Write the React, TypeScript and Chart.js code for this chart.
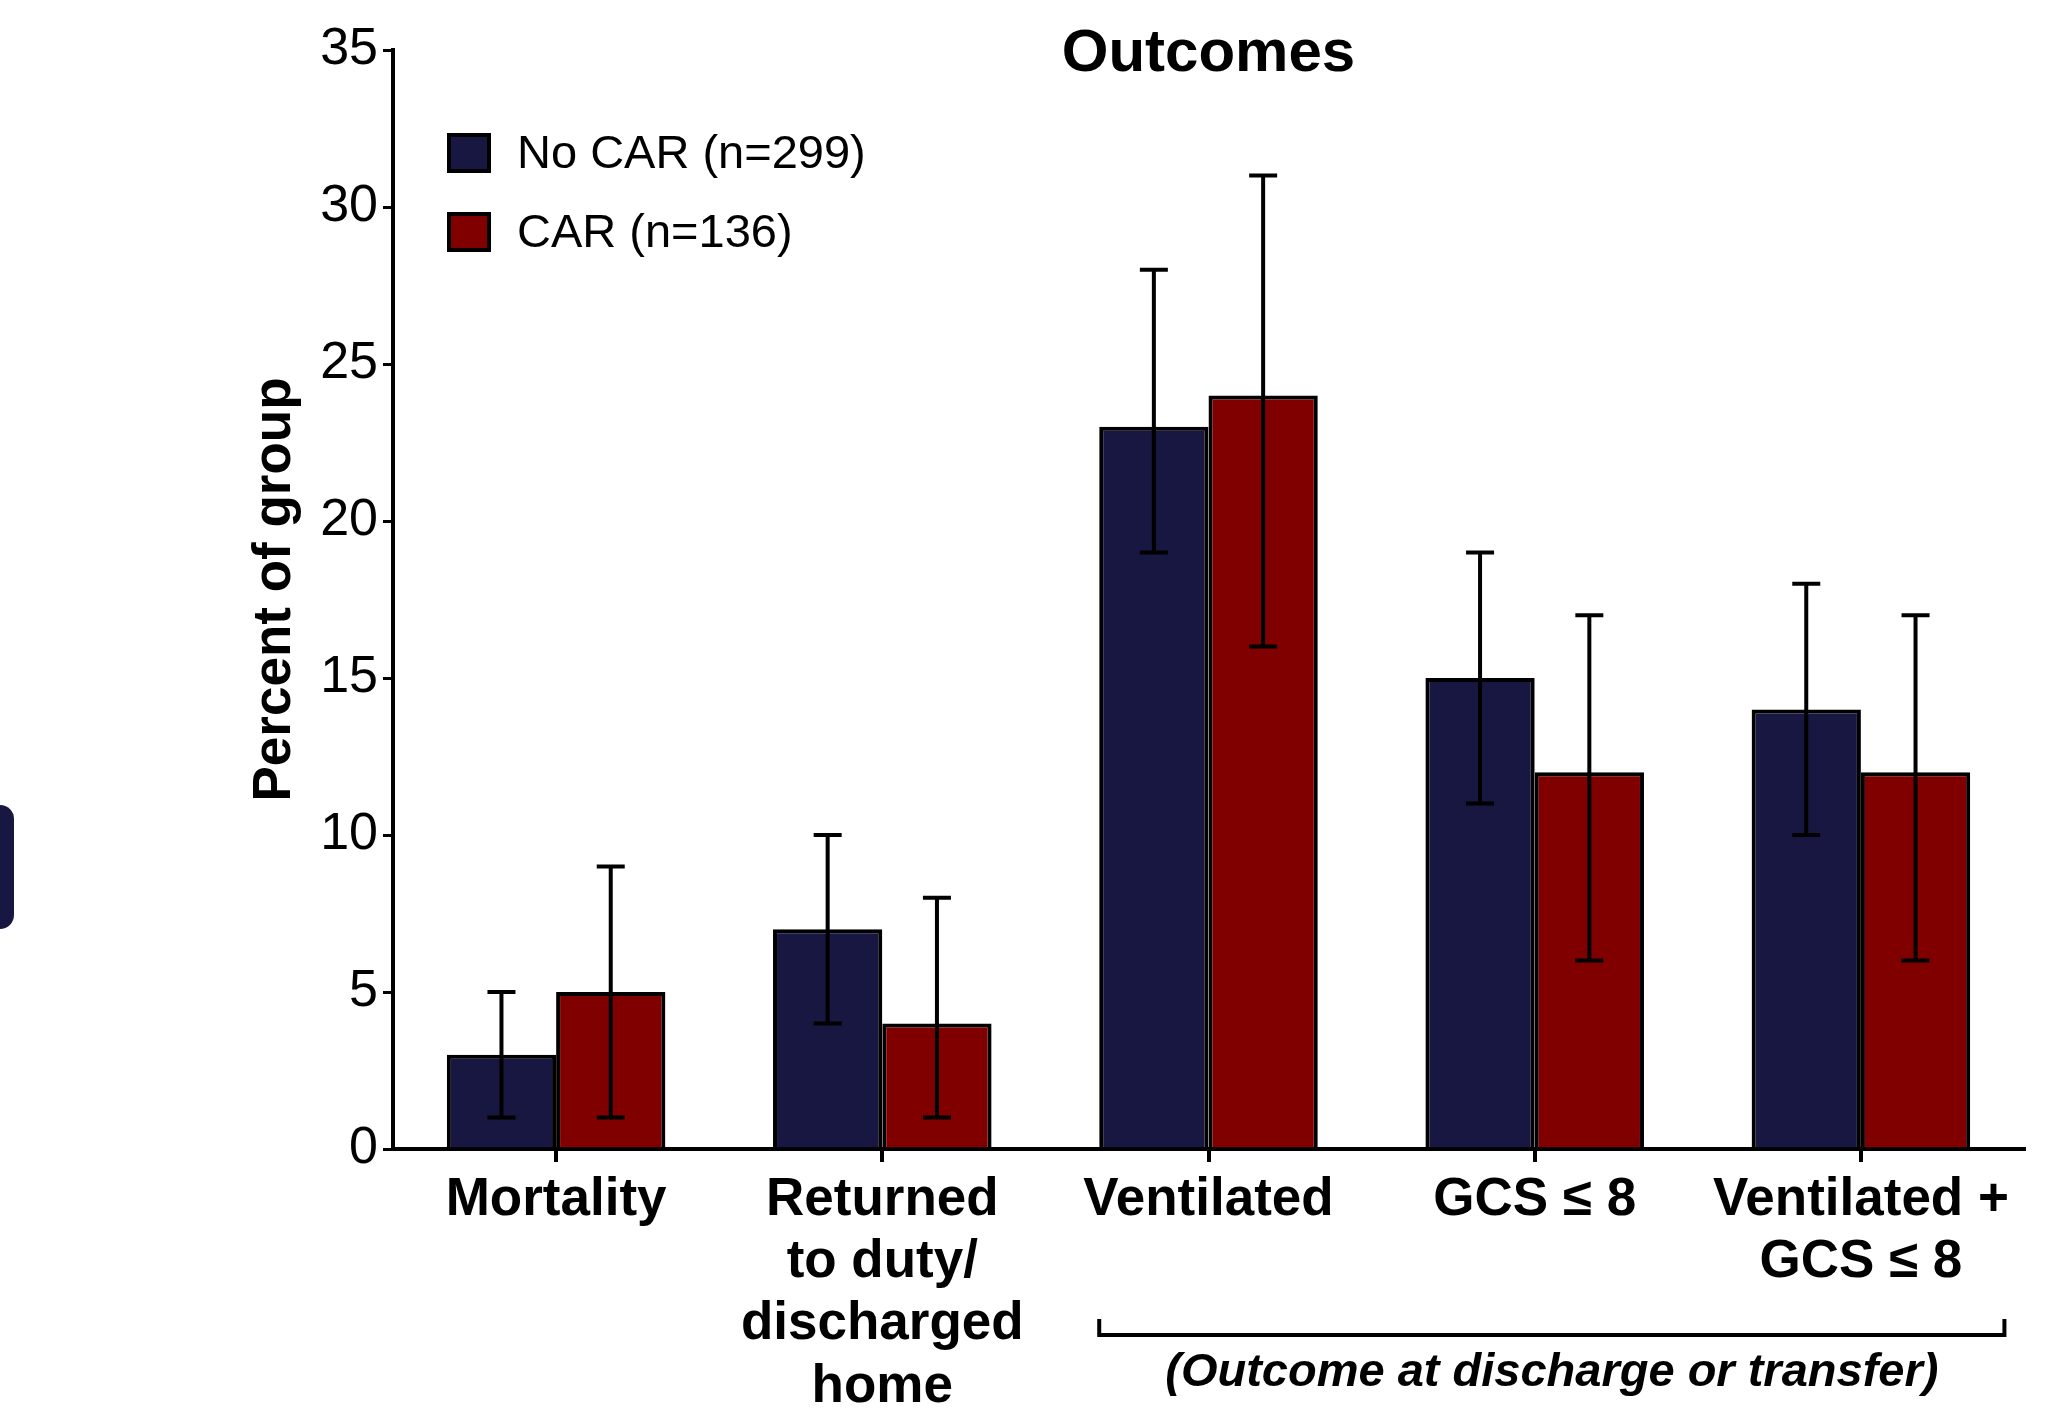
import React, { useEffect, useRef } from "react";
import { Chart, registerables } from "chart.js";

Chart.register(...registerables);

const categories: (string | string[])[] = [
  "Mortality",
  ["Returned", "to duty/", "discharged", "home"],
  "Ventilated",
  "GCS \u2264 8",
  ["Ventilated +", "GCS \u2264 8"],
];
const seriesNames = ["No CAR (n=299)", "CAR (n=136)"];
const noCarValues = [3, 7, 23, 15, 14];
const noCarLow = [1, 4, 19, 11, 10];
const noCarHigh = [5, 10, 28, 19, 18];
const carValues = [5, 4, 24, 12, 12];
const carLow = [1, 1, 16, 6, 6];
const carHigh = [9, 8, 31, 17, 17];
const yMin = 0;
const yMax = 35;
const yStep = 5;
const chartTitle = "Outcomes";
const yTitle = "Percent of group";
const bracketText = "(Outcome at discharge or transfer)";

const NAVY = "#171741";
const RED = "#800000";
const FONT = "'Liberation Sans', Arial, Helvetica, sans-serif";

const errorLows = [noCarLow, carLow];
const errorHighs = [noCarHigh, carHigh];

const decorPlugin = {
  id: "decor",
  afterDatasetsDraw(chart: any) {
    const ctx = chart.ctx;
    const y = chart.scales.y;
    const x = chart.scales.x;
    const area = chart.chartArea;
    ctx.save();
    // error bars
    ctx.strokeStyle = "#000";
    ctx.lineWidth = 4;
    ctx.lineCap = "butt";
    chart.data.datasets.forEach((_ds: any, i: number) => {
      const meta = chart.getDatasetMeta(i);
      meta.data.forEach((el: any, j: number) => {
        const cx = el.x;
        const yl = y.getPixelForValue(errorLows[i][j]);
        const yh = y.getPixelForValue(errorHighs[i][j]);
        const cap = 14;
        ctx.beginPath();
        ctx.moveTo(cx, yl);
        ctx.lineTo(cx, yh);
        ctx.moveTo(cx - cap, yl);
        ctx.lineTo(cx + cap, yl);
        ctx.moveTo(cx - cap, yh);
        ctx.lineTo(cx + cap, yh);
        ctx.stroke();
      });
    });
    // title
    ctx.fillStyle = "#000";
    ctx.textAlign = "center";
    ctx.textBaseline = "middle";
    ctx.font = `bold 60px ${FONT}`;
    ctx.fillText(chartTitle, (area.left + area.right) / 2, area.top + 4);
    // y title
    ctx.save();
    ctx.translate(275, (area.top + area.bottom) / 2 - 10);
    ctx.rotate(-Math.PI / 2);
    ctx.font = `bold 53px ${FONT}`;
    ctx.fillText(yTitle, 0, 0);
    ctx.restore();
    // legend
    ctx.textAlign = "left";
    ctx.font = `47px ${FONT}`;
    chart.data.datasets.forEach((ds: any, i: number) => {
      const cy = area.top + 103 + i * 79;
      const sx = area.left + 56;
      ctx.fillStyle = ds.backgroundColor;
      ctx.fillRect(sx, cy - 18, 40, 36);
      ctx.lineWidth = 4;
      ctx.strokeStyle = "#000";
      ctx.strokeRect(sx, cy - 18, 40, 36);
      ctx.fillStyle = "#000";
      ctx.fillText(ds.label, area.left + 124, cy + 2);
    });
    // bracket
    const cw = (x.right - x.left) / categories.length;
    const bx1 = x.getPixelForValue(2) - 0.335 * cw;
    const bx2 = x.getPixelForValue(4) + 0.44 * cw;
    const by = area.bottom + 186;
    ctx.lineWidth = 4;
    ctx.strokeStyle = "#000";
    ctx.beginPath();
    ctx.moveTo(bx1, by - 16);
    ctx.lineTo(bx1, by);
    ctx.lineTo(bx2, by);
    ctx.lineTo(bx2, by - 16);
    ctx.stroke();
    ctx.textAlign = "center";
    ctx.font = `italic bold 47px ${FONT}`;
    ctx.fillText(bracketText, (bx1 + bx2) / 2, area.bottom + 224);
    ctx.restore();
  },
};

export default function App() {
  const ref = useRef<HTMLCanvasElement | null>(null);
  useEffect(() => {
    document.body.style.margin = "0";
    document.body.style.overflow = "hidden";
    const canvas = ref.current!;
    const chart = new Chart(canvas, {
      type: "bar",
      data: {
        labels: categories,
        datasets: [
          {
            label: seriesNames[0],
            data: noCarValues,
            backgroundColor: NAVY,
            borderColor: "#000",
            borderWidth: 4,
          },
          {
            label: seriesNames[1],
            data: carValues,
            backgroundColor: RED,
            borderColor: "#000",
            borderWidth: 4,
          },
        ],
      },
      options: {
        animation: false,
        responsive: false,
        devicePixelRatio: 1,
        layout: { padding: { top: 50, right: 22, bottom: 0, left: 0 } },
        datasets: { bar: { categoryPercentage: 0.67, barPercentage: 1 } },
        plugins: {
          legend: { display: false },
          tooltip: { enabled: false },
          title: { display: false },
        },
        scales: {
          x: {
            afterFit: (s: any) => {
              s.height = 263;
            },
            grid: {
              offset: false,
              drawOnChartArea: false,
              drawTicks: true,
              tickLength: 13,
              lineWidth: 4,
              color: "#000",
            },
            border: { display: true, width: 4, color: "#000" },
            ticks: {
              color: "#000",
              font: { family: FONT, size: 53, weight: "bold", lineHeight: 1.175 },
              padding: 7,
              maxRotation: 0,
              minRotation: 0,
              autoSkip: false,
            },
          },
          y: {
            min: yMin,
            max: yMax,
            afterFit: (s: any) => {
              s.width = 393;
            },
            grid: {
              drawOnChartArea: false,
              drawTicks: true,
              tickLength: 10,
              lineWidth: 3,
              color: "#000",
            },
            border: { display: true, width: 4, color: "#000" },
            ticks: {
              stepSize: yStep,
              color: "#000",
              font: { family: FONT, size: 52 },
              padding: 5,
            },
          },
        },
      },
      plugins: [decorPlugin],
    });
    return () => chart.destroy();
  }, []);
  return (
    <div style={{ position: "fixed", left: 0, top: 0, width: 2046, height: 1412, background: "#fff" }}>
      <canvas ref={ref} width={2046} height={1412} style={{ display: "block" }} />
      <div
        style={{
          position: "absolute",
          left: 0,
          top: 805,
          width: 14,
          height: 124,
          background: NAVY,
          borderTopRightRadius: 14,
          borderBottomRightRadius: 14,
        }}
      />
    </div>
  );
}
